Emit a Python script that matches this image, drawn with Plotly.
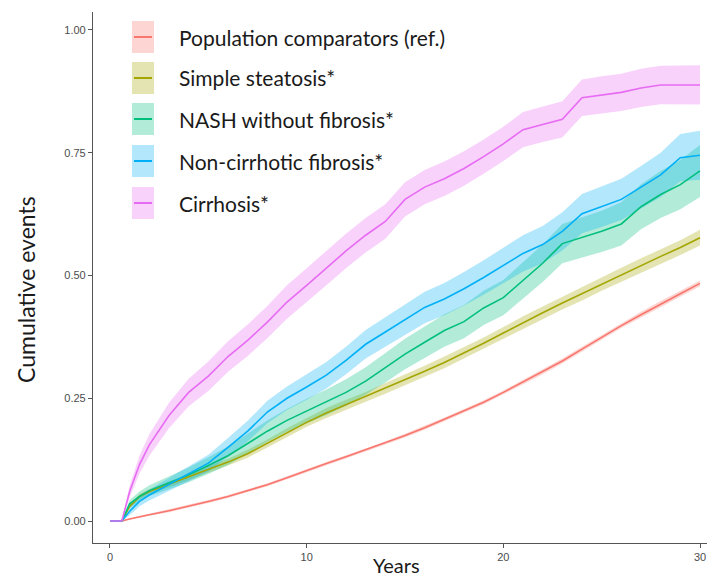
import plotly.graph_objects as go

# ---------------- data ----------------
years = [0, 0.6, 1, 1.5, 2, 3, 4, 5, 6, 7, 8, 9, 10, 11, 12, 13, 14, 15, 16, 17,
         18, 19, 20, 21, 22, 23, 24, 25, 26, 27, 28, 29, 30]

groups = ["Population comparators (ref.)", "Simple steatosis*", "NASH without fibrosis*",
          "Non-cirrhotic fibrosis*", "Cirrhosis*"]
colors = ["#F8766D", "#A3A500", "#00BF7D", "#00B0F6", "#E76BF3"]

population = [0, 0, 0.004, 0.009, 0.013, 0.021, 0.030, 0.040, 0.050, 0.062, 0.074, 0.088, 0.103,
              0.117, 0.131, 0.145, 0.159, 0.174, 0.190, 0.207, 0.224, 0.242, 0.262, 0.283,
              0.304, 0.326, 0.350, 0.374, 0.398, 0.420, 0.442, 0.463, 0.484]
population_ci = [0, 0, 0.001, 0.002, 0.002, 0.003, 0.003, 0.003, 0.003, 0.003, 0.003, 0.003, 0.003,
                 0.003, 0.003, 0.003, 0.003, 0.004, 0.004, 0.004, 0.004, 0.004, 0.004, 0.005,
                 0.005, 0.005, 0.005, 0.005, 0.005, 0.006, 0.006, 0.006, 0.006]

steatosis = [0, 0, 0.030, 0.050, 0.060, 0.075, 0.090, 0.105, 0.120, 0.137, 0.158, 0.180, 0.201,
             0.220, 0.237, 0.253, 0.270, 0.287, 0.305, 0.323, 0.342, 0.362, 0.383, 0.404,
             0.424, 0.444, 0.463, 0.483, 0.502, 0.520, 0.539, 0.557, 0.577]
steatosis_ci = [0, 0, 0.004, 0.005, 0.005, 0.006, 0.006, 0.007, 0.007, 0.008, 0.008, 0.009, 0.009,
                0.010, 0.010, 0.010, 0.011, 0.011, 0.011, 0.012, 0.012, 0.012, 0.012, 0.013,
                0.013, 0.013, 0.014, 0.014, 0.014, 0.015, 0.015, 0.015, 0.016]

nash = [0, 0, 0.035, 0.050, 0.062, 0.078, 0.094, 0.113, 0.133, 0.158, 0.183, 0.205, 0.224,
        0.242, 0.262, 0.285, 0.312, 0.340, 0.364, 0.388, 0.406, 0.434, 0.455, 0.490,
        0.525, 0.565, 0.578, 0.590, 0.605, 0.640, 0.665, 0.685, 0.713]
nash_ci = [0, 0, 0.008, 0.010, 0.011, 0.013, 0.015, 0.017, 0.019, 0.020, 0.022, 0.023, 0.025,
           0.026, 0.027, 0.028, 0.030, 0.031, 0.032, 0.033, 0.034, 0.035, 0.036, 0.037,
           0.038, 0.040, 0.041, 0.042, 0.044, 0.046, 0.048, 0.050, 0.053]

fibrosis = [0, 0, 0.020, 0.040, 0.053, 0.075, 0.096, 0.118, 0.150, 0.183, 0.222, 0.250, 0.273,
            0.297, 0.327, 0.360, 0.385, 0.410, 0.435, 0.452, 0.473, 0.496, 0.520, 0.545,
            0.563, 0.590, 0.626, 0.640, 0.655, 0.680, 0.705, 0.740, 0.745]
fibrosis_ci = [0, 0, 0.008, 0.010, 0.011, 0.013, 0.015, 0.017, 0.019, 0.021, 0.023, 0.024, 0.026,
               0.027, 0.028, 0.029, 0.030, 0.031, 0.032, 0.033, 0.034, 0.035, 0.036, 0.037,
               0.038, 0.039, 0.040, 0.041, 0.042, 0.043, 0.045, 0.048, 0.050]

cirrhosis = [0, 0, 0.060, 0.115, 0.155, 0.215, 0.262, 0.295, 0.335, 0.368, 0.405, 0.446, 0.480,
             0.515, 0.550, 0.582, 0.610, 0.655, 0.680, 0.697, 0.718, 0.742, 0.768, 0.797,
             0.808, 0.818, 0.862, 0.868, 0.873, 0.882, 0.888, 0.888, 0.888]
cirrhosis_ci = [0, 0, 0.012, 0.018, 0.022, 0.026, 0.028, 0.030, 0.031, 0.032, 0.033, 0.034, 0.035,
                0.035, 0.035, 0.035, 0.035, 0.035, 0.035, 0.035, 0.035, 0.035, 0.035, 0.036,
                0.036, 0.037, 0.037, 0.038, 0.038, 0.039, 0.039, 0.040, 0.040]

series = [population, steatosis, nash, fibrosis, cirrhosis]
series_ci = [population_ci, steatosis_ci, nash_ci, fibrosis_ci, cirrhosis_ci]

x_ticks = [0, 10, 20, 30]
y_ticks = [0, 0.25, 0.5, 0.75, 1.0]
x_title = "Years"
y_title = "Cumulative events"

# ---------------- layout geometry ----------------
W, H = 707, 578
ML, MR, MT, MB = 93, 0, 12, 35
PW, PH = W - ML - MR, H - MT - MB


def px(xp):
    return (xp - ML) / PW


def py(yp):
    return (H - MB - yp) / PH


def rgba(hexc, a):
    h = hexc.lstrip("#")
    r, g, b = int(h[0:2], 16), int(h[2:4], 16), int(h[4:6], 16)
    return f"rgba({r},{g},{b},{a})"


fig = go.Figure()

# ribbons
for vals, ci, col in zip(series, series_ci, colors):
    upper = [v + c for v, c in zip(vals, ci)]
    lower = [max(v - c, 0) for v, c in zip(vals, ci)]
    fig.add_trace(go.Scatter(
        x=years + years[::-1], y=upper + lower[::-1], fill="toself",
        fillcolor=rgba(col, 0.3), line=dict(width=0), mode="lines",
        hoverinfo="skip", showlegend=False))

# lines
for vals, col, name in zip(series, colors, groups):
    fig.add_trace(go.Scatter(x=years, y=vals, mode="lines", name=name,
                             line=dict(color=col, width=1.6), showlegend=False))

# manual legend (key boxes + labels)
shapes = []
annotations = []
leg_y = [37, 78, 119, 161, 203]
for name, col, yc in zip(groups, colors, leg_y):
    shapes.append(dict(type="rect", xref="paper", yref="paper",
                       x0=px(132), x1=px(154), y0=py(yc + 16), y1=py(yc - 16),
                       fillcolor=rgba(col, 0.3), line=dict(width=0), layer="above"))
    shapes.append(dict(type="line", xref="paper", yref="paper",
                       x0=px(134), x1=px(152), y0=py(yc), y1=py(yc),
                       line=dict(color=col, width=2), layer="above"))
    annotations.append(dict(text=name, xref="paper", yref="paper", x=px(177), y=py(yc),
                            xanchor="left", yanchor="middle", showarrow=False,
                            font=dict(family="Lato, sans-serif", size=21, color="#1a1a1a")))

# axis titles
annotations.append(dict(text=y_title, xref="paper", yref="paper", x=px(26), y=py(290),
                        textangle=-90, xanchor="center", yanchor="middle", showarrow=False,
                        font=dict(family="Lato, sans-serif", size=23, color="#1a1a1a")))
annotations.append(dict(text=x_title, xref="paper", yref="paper", x=px(396), y=py(579),
                        xanchor="center", yanchor="bottom", showarrow=False,
                        font=dict(family="Lato, sans-serif", size=20, color="#1a1a1a")))

tick_font = dict(family="Liberation Sans, Arial, sans-serif", size=11, color="#4d4d4d")

fig.update_layout(
    width=W, height=H,
    margin=dict(l=ML, r=MR, t=MT, b=MB, pad=0),
    paper_bgcolor="white", plot_bgcolor="white",
    shapes=shapes, annotations=annotations,
    xaxis=dict(range=[-0.864, 30.356], tickvals=x_ticks, ticktext=[str(v) for v in x_ticks],
               showgrid=False, zeroline=False, showline=True, linecolor="#555555", linewidth=1.2,
               ticks="outside", ticklen=4, tickcolor="#555555", tickwidth=1, tickfont=tick_font),
    yaxis=dict(range=[-0.0447, 1.0366], tickvals=y_ticks, ticktext=[f"{v:.2f}" for v in y_ticks],
               showgrid=False, zeroline=False, showline=True, linecolor="#555555", linewidth=1.2,
               ticks="outside", ticklen=4, tickcolor="#555555", tickwidth=1, tickfont=tick_font),
)

fig.write_html("out.html")
